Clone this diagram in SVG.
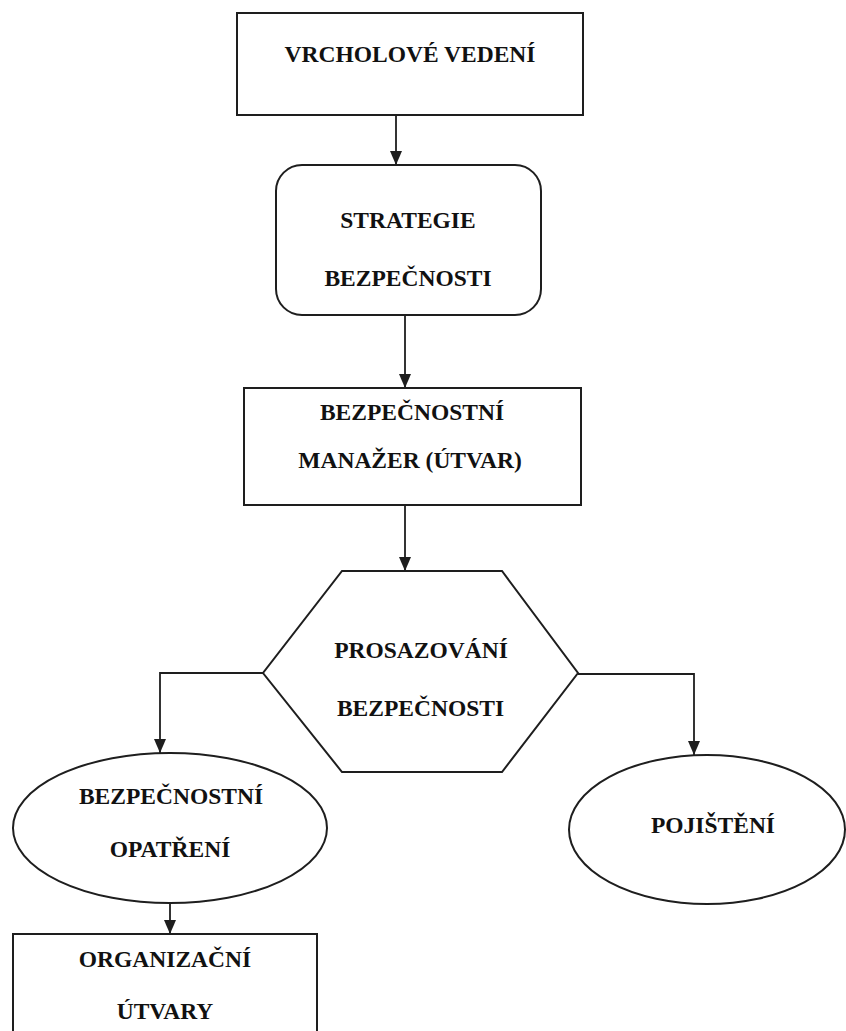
<svg xmlns="http://www.w3.org/2000/svg" width="846" height="1031" viewBox="0 0 846 1031">
  <style>
    .shape { fill: #ffffff; stroke: #1e1e1e; stroke-width: 2; }
    .link { fill: none; stroke: #1e1e1e; stroke-width: 1.8; marker-end: url(#arrow); }
    .label { font-family: "Liberation Serif", "Times New Roman", serif; font-weight: bold; font-size: 23.5px; fill: #111111; text-anchor: middle; }
  </style>
  <defs>
    <marker id="arrow" viewBox="0 0 14 12" refX="14" refY="6" markerWidth="14" markerHeight="12" markerUnits="userSpaceOnUse" orient="auto">
      <path d="M0,0 L14,6 L0,12 Z" fill="#1e1e1e"/>
    </marker>
  </defs>
  <rect width="846" height="1031" fill="#ffffff"/>

  <!-- arrows between the boxes -->
  <g id="connectors">
    <path class="link" d="M396,115 L396,165"/>
    <path class="link" d="M405,315 L405,388"/>
    <path class="link" d="M405,505 L405,571"/>
    <path class="link" d="M263,673 L160,673 L160,753"/>
    <path class="link" d="M578,674 L694,674 L694,755"/>
    <path class="link" d="M170,903 L170,934"/>
  </g>

  <g id="vrcholove-vedeni">
    <rect class="shape" x="237" y="13" width="346" height="102"/>
    <text class="label" x="410" y="62">VRCHOLOVÉ VEDENÍ</text>
  </g>

  <g id="strategie-bezpecnosti">
    <rect class="shape" x="276" y="165" width="265" height="150" rx="26" ry="26"/>
    <text class="label" x="408" y="228">STRATEGIE</text>
    <text class="label" x="408" y="286">BEZPEČNOSTI</text>
  </g>

  <g id="bezpecnostni-manazer">
    <rect class="shape" x="244" y="388" width="337" height="117"/>
    <text class="label" x="412" y="420">BEZPEČNOSTNÍ</text>
    <text class="label" x="410" y="468">MANAŽER (ÚTVAR)</text>
  </g>

  <g id="prosazovani-bezpecnosti">
    <polygon class="shape" points="342,571 502,571 578,673 502,772 342,772 263,673"/>
    <text class="label" x="421" y="658">PROSAZOVÁNÍ</text>
    <text class="label" x="420.5" y="716">BEZPEČNOSTI</text>
  </g>

  <g id="bezpecnostni-opatreni">
    <ellipse class="shape" cx="170" cy="828" rx="157" ry="75"/>
    <text class="label" x="171" y="804">BEZPEČNOSTNÍ</text>
    <text class="label" x="170" y="857">OPATŘENÍ</text>
  </g>

  <g id="pojisteni">
    <ellipse class="shape" cx="707" cy="829.5" rx="138" ry="74.5"/>
    <text class="label" x="713" y="833">POJIŠTĚNÍ</text>
  </g>

  <g id="organizacni-utvary">
    <rect class="shape" x="13" y="934" width="304" height="110"/>
    <text class="label" x="165" y="967">ORGANIZAČNÍ</text>
    <text class="label" x="165" y="1019">ÚTVARY</text>
  </g>
</svg>
